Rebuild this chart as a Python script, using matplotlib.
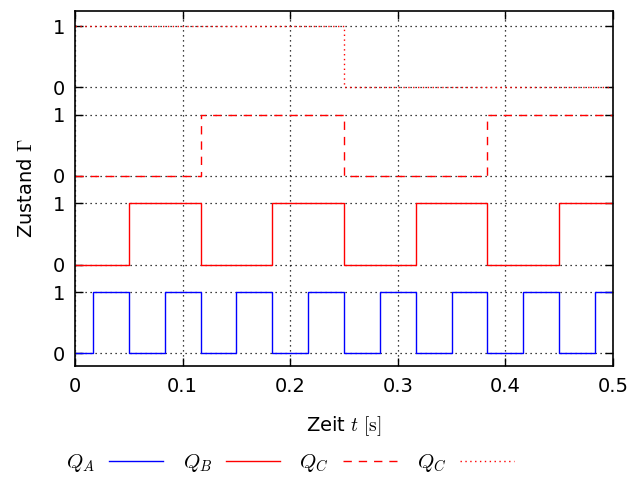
import numpy as np
import matplotlib.pyplot as plt

plt.rcParams['font.family'] = 'DejaVu Sans'
plt.rcParams['mathtext.fontset'] = 'cm'
plt.rcParams['font.size'] = 14

# switching times (s) of each signal, start level, and vertical offset
t_end = 0.5
qa_switch = [0.0167, 0.05, 0.0833, 0.1167, 0.15, 0.1833, 0.2167, 0.25,
             0.2833, 0.3167, 0.35, 0.3833, 0.4167, 0.45, 0.4833]
qb_switch = [0.05, 0.1167, 0.1833, 0.25, 0.3167, 0.3833, 0.45]
qc_switch = [0.1167, 0.25, 0.3833]
qd_switch = [0.25]
start_level = [0, 0, 0, 1]
offsets = [0.0, 1.45, 2.9, 4.35]
labels = [r'$Q_A$', r'$Q_B$', r'$Q_C$', r'$Q_C$']
xticks = [0, 0.1, 0.2, 0.3, 0.4, 0.5]


def step_curve(switch, level):
    t = [0.0]
    y = [level]
    for s in switch:
        t += [s, s]
        y += [level, 1 - level]
        level = 1 - level
    t.append(t_end)
    y.append(level)
    return np.array(t), np.array(y)


fig = plt.figure(figsize=(6.28, 4.86), dpi=100)
ax = fig.add_axes([0.1194, 0.247, 0.8566, 0.7304])

styles = [dict(color='#0000ff', ls='-'),
          dict(color='#ff0000', ls='-'),
          dict(color='#ff0000', ls=(0, (6, 5))),
          dict(color='#ff0000', ls=(0, (1, 2.5)))]

for sw, lv, off, lab, st in zip([qa_switch, qb_switch, qc_switch, qd_switch],
                                start_level, offsets, labels, styles):
    t, y = step_curve(sw, lv)
    ax.plot(t, y + off, lw=1.0, label=lab, **st)

yt = []
ytl = []
for off in offsets:
    yt += [off, off + 1]
    ytl += ['0', '1']
ax.set_yticks(yt)
ax.set_yticklabels(ytl)
ax.set_xticks(xticks)
ax.set_xticklabels(['0', '0.1', '0.2', '0.3', '0.4', '0.5'])
ax.set_xlim(0, 0.5)
ax.set_ylim(-0.21, 5.6)
ax.tick_params(direction='in', top=True, right=True, length=6, width=1)
ax.tick_params(axis='x', pad=8)
ax.tick_params(axis='y', pad=7)
ax.grid(True, color='black', ls=(0, (1, 3)), lw=0.9)
for s in ax.spines.values():
    s.set_linewidth(1.2)

ax.set_xlabel(r'Zeit $t\ \mathrm{[s]}$', labelpad=13)
ax.set_ylabel(r'Zustand $\Gamma$', labelpad=12)

leg = ax.legend(loc='upper left', bbox_to_anchor=(66 / 628, 0.069),
                bbox_transform=fig.transFigure, ncol=4,
                frameon=False, markerfirst=False, handlelength=2.6,
                columnspacing=0.95, handletextpad=0.65, fontsize=15,
                borderaxespad=0, borderpad=0)

fig.savefig('out.png', dpi=100)
